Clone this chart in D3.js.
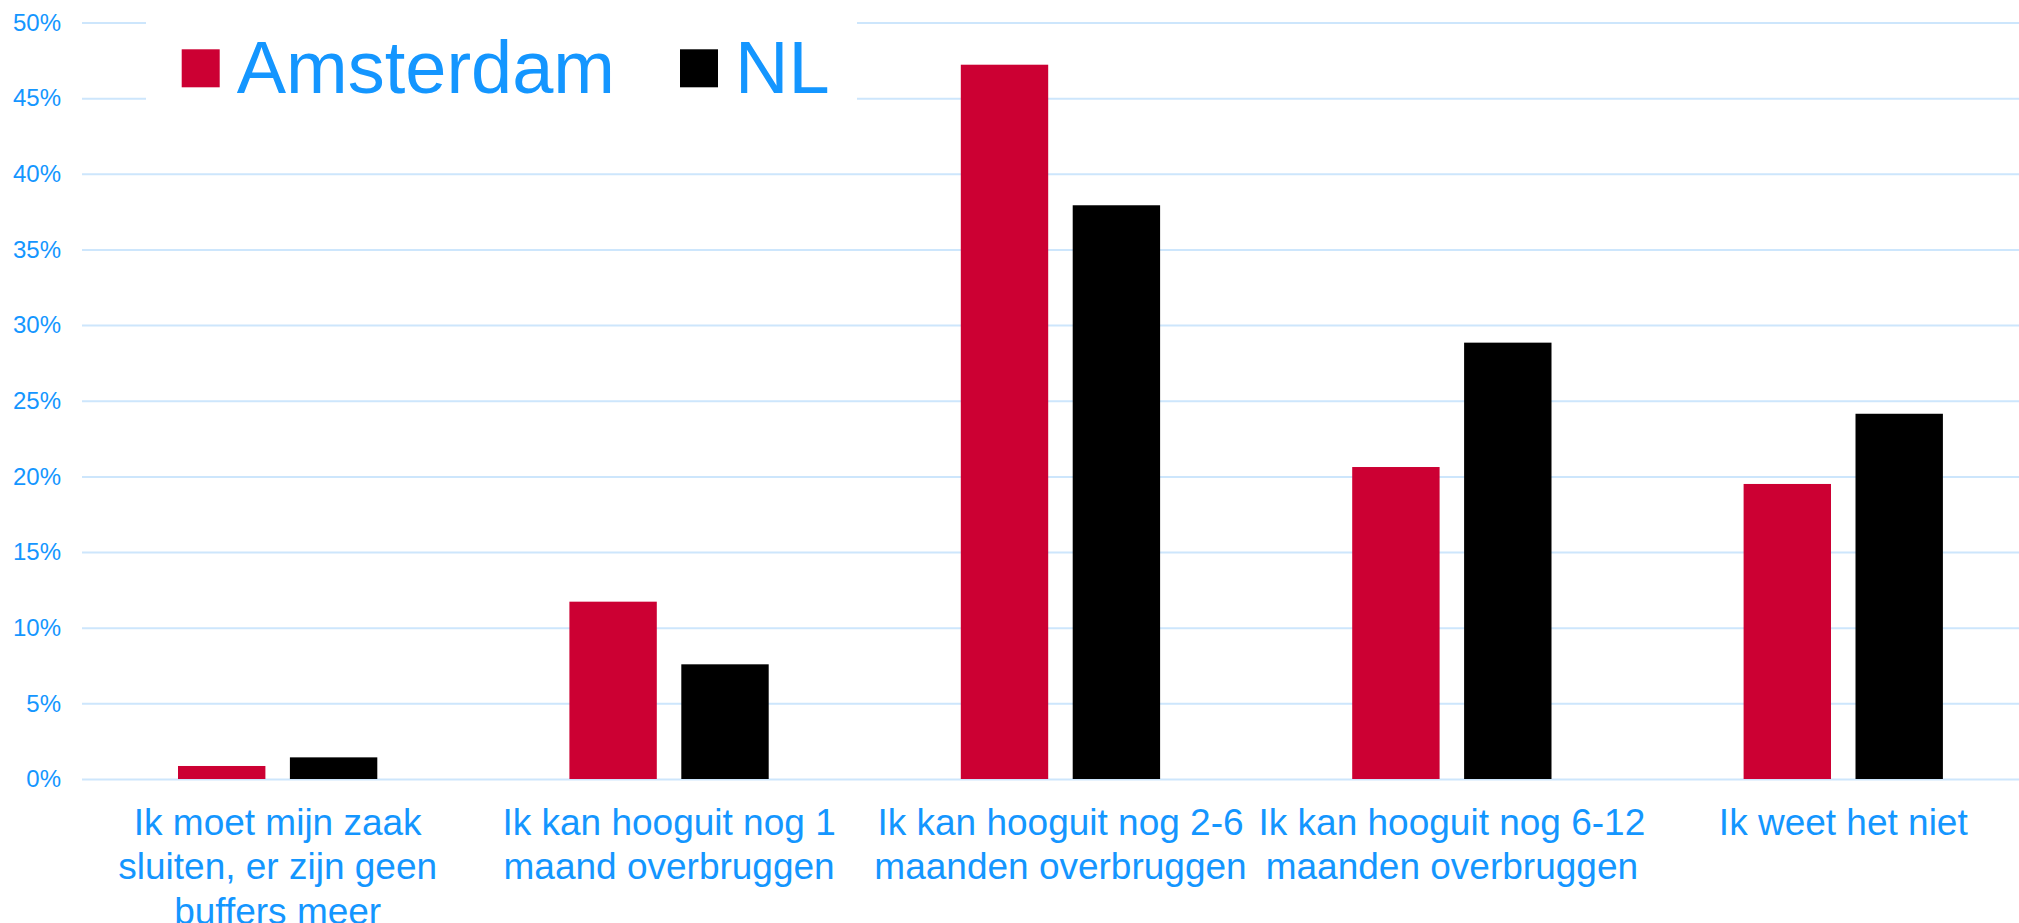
<!DOCTYPE html>
<html>
<head>
<meta charset="utf-8">
<script src="https://cdn.jsdelivr.net/npm/d3@7"></script>
<style>
  body { margin: 0; background: #fff; }
  svg { display: block; }
</style>
</head>
<body>
<div></div>
<script>
// data
var categories = [
    ["Ik moet mijn zaak", "sluiten, er zijn geen", "buffers meer"],
    ["Ik kan hooguit nog 1", "maand overbruggen"],
    ["Ik kan hooguit nog 2-6", "maanden overbruggen"],
    ["Ik kan hooguit nog 6-12", "maanden overbruggen"],
    ["Ik weet het niet"]
];
var seriesNames = ["Amsterdam", "NL"];
var amsterdam = [0.86, 11.72, 47.21, 20.62, 19.50];
var nl = [1.43, 7.58, 37.92, 28.84, 24.14];
var yTicks = [0, 5, 10, 15, 20, 25, 30, 35, 40, 45, 50];

var colors = {"Amsterdam": "#cc0033", "NL": "#000000"};
var textColor = "#1496ff";
var fontFam = "'Liberation Sans', Arial, sans-serif";

var width = 2019, height = 923;

var svg = d3.select("body").select("div").append("svg")
    .attr("width", width)
    .attr("height", height);

// scales
var x0 = d3.scaleBand()
    .domain(d3.range(categories.length))
    .range([82, 2039])
    .padding(0);

var x1 = d3.scaleBand()
    .domain(seriesNames)
    .range([96, 295.3])
    .paddingInner(0.219)
    .paddingOuter(0);

var y = d3.scaleLinear().domain([0, 50]).range([779, 22.5]);

// gridlines + y labels
var yAxis = svg.append("g")
    .attr("transform", "translate(82,0)")
    .call(d3.axisLeft(y)
        .tickValues(yTicks)
        .tickSize(-(width - 82))
        .tickPadding(21)
        .tickFormat(function(d) { return d + "%"; }));

yAxis.select(".domain").remove();
yAxis.selectAll(".tick line")
    .attr("stroke", "#cde6fc")
    .attr("stroke-width", 2);
yAxis.selectAll(".tick text")
    .attr("fill", textColor)
    .style("font-family", fontFam)
    .style("font-size", "24px");

// bars
var rows = categories.map(function(c, i) {
    return [{key: "Amsterdam", value: amsterdam[i]}, {key: "NL", value: nl[i]}];
});

svg.append("g")
    .selectAll("g")
    .data(rows)
    .enter().append("g")
    .attr("transform", function(d, i) { return "translate(" + x0(i) + ",0)"; })
    .selectAll("rect")
    .data(function(d) { return d; })
    .enter().append("rect")
    .attr("x", function(d) { return x1(d.key); })
    .attr("y", function(d) { return y(d.value); })
    .attr("width", x1.bandwidth())
    .attr("height", function(d) { return y(0) - y(d.value); })
    .style("fill", function(d) { return colors[d.key]; });

// x labels
var labels = svg.append("g")
    .selectAll("text")
    .data(categories)
    .enter().append("text")
    .attr("x", function(d, i) { return x0(i) + x0.bandwidth() / 2; })
    .attr("y", 835)
    .attr("text-anchor", "middle")
    .attr("fill", textColor)
    .style("font-family", fontFam)
    .style("font-size", "37px");

labels.selectAll("tspan")
    .data(function(d) { return d; })
    .enter().append("tspan")
    .attr("x", function() { return d3.select(this.parentNode).attr("x"); })
    .attr("dy", function(d, j) { return j === 0 ? 0 : 44.3; })
    .text(function(d) { return d; });

// legend (white box over the gridlines)
var legend = svg.append("g").attr("class", "legend");

legend.append("rect")
    .attr("x", 146)
    .attr("y", 0)
    .attr("width", 711)
    .attr("height", 110)
    .style("fill", "#fff");

var legendX = [181.7, 680];
seriesNames.forEach(function(name, i) {
    legend.append("rect")
        .attr("x", legendX[i])
        .attr("y", 49.3)
        .attr("width", 38)
        .attr("height", 38)
        .style("fill", colors[name]);
    legend.append("text")
        .attr("x", legendX[i] + 55)
        .attr("y", 92.7)
        .text(name)
        .attr("fill", textColor)
        .style("font-family", fontFam)
        .style("font-size", "74px");
});
</script>
</body>
</html>
